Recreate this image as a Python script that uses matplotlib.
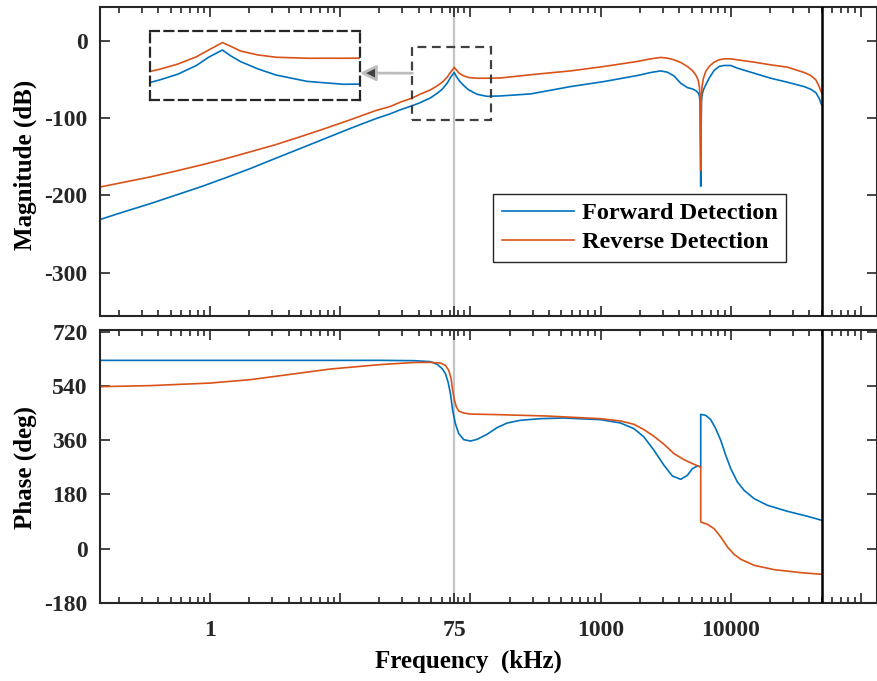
import numpy as np
import matplotlib
matplotlib.use('Agg')
import matplotlib.pyplot as plt
from matplotlib.patches import Rectangle
from matplotlib.ticker import LogLocator, FixedLocator, FixedFormatter, NullFormatter

plt.rcParams['font.family'] = ['Liberation Serif', 'DejaVu Serif']
plt.rcParams['font.weight'] = 'bold'
plt.rcParams['axes.unicode_minus'] = False

# magnitude response (kHz, dB)
mag_freq = [0.1425, 0.222, 0.3455, 0.538, 0.838, 1.304, 2.03, 3.16, 4.92, 7.67, 11.94, 18.6,
            24.2, 28.9, 35.8, 41.2, 49.2, 55.5, 60.6, 66.2, 70.2, 75.0, 78.0, 81.8, 88.8, 97,
            112.6, 134, 170, 289,
            588, 1061, 1915, 2424, 2894, 3256, 3665, 4125, 4642, 5073, 5381, 5607, 5741, 5809,
            5878, 5948, 6019, 6163, 6423, 6813, 7442, 8135, 8886, 10000, 11253, 15117, 20310,
            27284, 36651, 41246, 45060, 47805, 50000]
mag_fwd = [-231.2, -220.8, -210.8, -200, -189.2, -177.5, -165.4, -152.3, -139.4, -126.4, -113.4,
           -101, -94.5, -89.3, -84, -80, -74, -68, -62.8, -55, -47.6, -41.1, -46.3, -51.5, -58,
           -63.6, -69.3, -71.9, -71.4, -68.8,
           -59.3, -52.8, -45, -41.1, -39, -40.7, -45.5, -55, -60.6, -62.3, -64.5, -67.1, -71.4,
           -78.8, -188.3, -78.8, -70.1, -63.6, -57.1, -48.5, -38.5, -33.3, -32, -32, -35.5, -42,
           -48.5, -53.7, -59.3, -62.8, -67.1, -74.5, -83.1]
mag_rev = [-189.2, -182.7, -176.2, -168.8, -161, -152.8, -143.7, -134.6, -124.2, -113.4, -102.2,
           -90.5, -85, -79.5, -74, -69, -63.6, -58.4, -53.7, -47.2, -41.1, -34.4, -37.7, -42,
           -45.5, -47.6, -48.5, -48.5, -48.2, -44,
           -39, -33.3, -26.8, -23.4, -21.6, -22.5, -24.7, -28.1, -33.3, -38.5, -44.2, -50.6,
           -59.3, -72.3, -167.5, -72.3, -59.3, -48.5, -39.8, -33.3, -27.7, -24.7, -23.4, -23.4,
           -24.7, -27.7, -31.2, -34.2, -41.1, -45, -50.6, -59.3, -68]

# phase response (kHz, deg)
ph_fwd_freq = [0.1425, 10, 20.3, 36.65, 49.2, 55.5, 60.6, 64.2, 67.3, 70.2, 73.0, 76.6, 81.3,
               88.8, 100, 112.6, 134, 160, 191, 241, 347, 522, 1000, 1425, 1805, 2154, 2572,
               3070, 3558, 4125, 4642, 5073, 5541, 5878, 5878, 6423, 7017, 7664, 8377, 9153,
               10000, 11253, 12664, 15117, 19149, 27284, 38876, 50000]
ph_fwd = [626, 626, 626.1, 625.1, 621.8, 612.8, 598.5, 581.9, 554, 515.4, 459.8, 415.6, 382.4,
          362.4, 357.8, 363.4, 380, 402.3, 417.6, 426.6, 432.3, 434.3, 428.8, 417.7, 398.9,
          371.2, 326.8, 277, 241.5, 230.4, 243.7, 265.9, 274.7, 271.4, 446.5, 443.2, 428.8,
          398.9, 360.1, 310.2, 265.9, 221.5, 193.8, 166.2, 144, 124, 107.4, 94.1]
ph_rev_freq = [0.1425, 0.3455, 1.0, 2.03, 2.89, 4.92, 8.38, 20.3, 36.65, 49.2, 58.8, 64.2, 68.1,
               71.0, 73.0, 75.3, 78.0, 81.3, 88.8, 100, 160, 389, 1000, 1425, 1805, 2154, 2572,
               3070, 3665, 4375, 5223, 5878, 5878, 6615, 7442, 8377, 9426, 10607, 11937, 15117,
               21544, 34551, 50000]
ph_rev = [538.6, 542, 550.6, 561.9, 570.6, 583.9, 597.2, 612, 619, 619.4, 617.2, 609.5, 592.8,
          565.2, 526.3, 493.1, 470.8, 457.5, 450.9, 447.5, 445.6, 440.9, 432.1, 424.4, 413.3,
          395.6, 373.4, 346.8, 315.8, 295.8, 280.3, 271.4, 88.5, 80.8, 66.4, 38.7, 5.4, -19,
          -35.6, -55.5, -70, -79.9, -85.5]

x_ticks = [1, 10, 75, 100, 1000, 10000, 100000]
x_labels = ['1', '', '75', '', '1000', '10000', '']
f_res = 75
f_end = 50000
zoom_f = (35.8, 145)
zoom_db = (-102.6, -8)

c_fwd = '#0072BD'
c_rev = '#D95319'
dark = '#262626'


def style_axis(ax):
    ax.set_xscale('log')
    ax.set_xlim(0.1425, 133000)
    ax.xaxis.set_major_locator(FixedLocator(x_ticks))
    ax.xaxis.set_major_formatter(FixedFormatter(x_labels))
    ax.xaxis.set_minor_locator(LogLocator(base=10, subs=np.arange(2, 10), numticks=20))
    ax.xaxis.set_minor_formatter(NullFormatter())
    ax.tick_params(which='both', direction='in', top=True, right=True, colors=dark,
                   labelsize=17, width=1.2)
    ax.tick_params(which='major', length=7)
    ax.tick_params(which='minor', length=4)
    ax.tick_params(axis='y', which='major', pad=9)
    for s in ax.spines.values():
        s.set_linewidth(1.5)
        s.set_color(dark)
    ax.axvline(f_res, color='#c4c4c4', lw=1.6, zorder=1)
    ax.axvline(f_end, color='black', lw=1.8, zorder=3)


fig = plt.figure(figsize=(8.78, 6.81), dpi=100)
ax1 = fig.add_axes([0.1139, 0.5360, 0.8850, 0.4530])
ax2 = fig.add_axes([0.1139, 0.1145, 0.8850, 0.4009])

# magnitude
style_axis(ax1)
ax1.plot(mag_freq, mag_fwd, color=c_fwd, lw=1.2, label='Forward Detection', zorder=2)
ax1.plot(mag_freq, mag_rev, color=c_rev, lw=1.2, label='Reverse Detection', zorder=2)
ax1.set_ylim(-356, 43)
ax1.set_yticks([-300, -200, -100, 0])
ax1.set_xticklabels([])
ax1.set_ylabel('Magnitude (dB)', fontsize=18, fontweight='bold')
ax1.yaxis.set_label_coords(-0.081, 0.489)
ax1.add_patch(Rectangle((zoom_f[0], zoom_db[0]), zoom_f[1] - zoom_f[0], zoom_db[1] - zoom_db[0],
                        fill=False, ls=(0, (4, 2.5)), lw=1.6, ec='#404040', zorder=4))
leg = ax1.legend(loc='lower right', bbox_to_anchor=(0.883, 0.175), fontsize=17.5,
                 fancybox=False, framealpha=1, edgecolor=dark, handlelength=3.0,
                 handletextpad=0.3, labelspacing=0.3, borderpad=0.35, borderaxespad=0)
leg.get_frame().set_linewidth(1.0)

# zoomed view of the resonance
axins = fig.add_axes([0.1708, 0.8532, 0.2392, 0.1013])
axins.set_xscale('log')
axins.plot(mag_freq, mag_fwd, color=c_fwd, lw=1.2)
axins.plot(mag_freq, mag_rev, color=c_rev, lw=1.2)
axins.set_xlim(53, zoom_f[1])
axins.set_ylim(-86, -24)
axins.set_xticks([])
axins.set_yticks([])
axins.minorticks_off()
for s in axins.spines.values():
    s.set_linestyle((0, (4, 2.5)))
    s.set_linewidth(1.6)
    s.set_color(dark)
ax1.annotate('', xy=(1.0, 0.39), xycoords=axins.transAxes,
             xytext=(zoom_f[0], -42), textcoords='data',
             arrowprops=dict(arrowstyle='-|>', mutation_scale=24, lw=2,
                             fc='#404040', ec='#bdbdbd', shrinkA=0, shrinkB=0))

# phase
style_axis(ax2)
ax2.plot(ph_fwd_freq, ph_fwd, color=c_fwd, lw=1.2, zorder=2)
ax2.plot(ph_rev_freq, ph_rev, color=c_rev, lw=1.2, zorder=2)
ax2.set_ylim(-181, 727)
ax2.set_yticks([-180, 0, 180, 360, 540, 720])
ax2.set_ylabel('Phase (deg)', fontsize=18, fontweight='bold')
ax2.yaxis.set_label_coords(-0.081, 0.495)
ax2.set_xlabel('Frequency  (kHz)', fontsize=18, fontweight='bold')
ax2.xaxis.set_label_coords(0.474, -0.17)
ax2.tick_params(axis='x', which='major', pad=12)

fig.savefig('out.png', dpi=100)
